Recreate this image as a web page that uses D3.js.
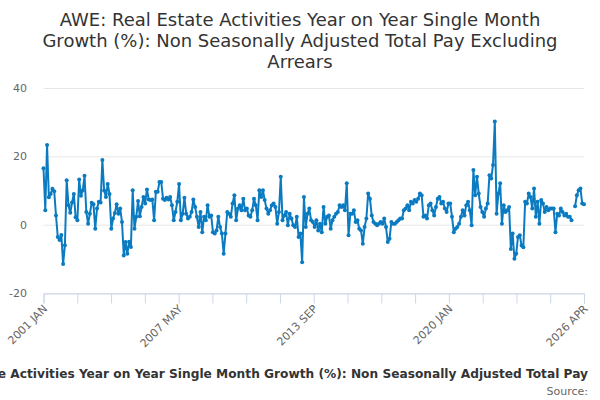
<!DOCTYPE html>
<html>
<head>
<meta charset="utf-8">
<script src="https://cdn.jsdelivr.net/npm/d3@7"></script>
<style>
  body { margin: 0; background: #fff; }
  svg { display: block; font-family: "DejaVu Sans", sans-serif; }
</style>
</head>
<body>
<div id="chart"></div>
<script>
"use strict"

const width = 600;
const height = 400;
const margin = { top: 88, right: 16, bottom: 107, left: 43.5 };

const titleLines = [
    "AWE: Real Estate Activities Year on Year Single Month",
    "Growth (%): Non Seasonally Adjusted Total Pay Excluding",
    "Arrears"
];
const seriesName = "AWE: Real Estate Activities Year on Year Single Month Growth (%): Non Seasonally Adjusted Total Pay";
const sourceText = "Source:";

const startYear = 2001;
const startMonth = 0;

// monthly values, 2001 JAN .. 2026 APR (null = missing month)
const values2001 = [
    16.5, 4.2, 23.3, 8, 9, 10.5, 9.8, 2.7, -3.6, -4.5,
    -3, -11.5, -6, 13, 5.7, 3.5, 6.5, 9, 2.2, 1.3,
    13.2, 8.5, 10, 14.3, 3.7, 0.3, 3.2, 6.4, 6, -1.2,
    4.7, 6.7, 6.5, 18.9, 10, 8.1, 11.9, 9, -1.2, 1.8,
    3.4, 6, 3.2, 4.7, 0.8, -9, -5.1, -8.5, -5, -6.5,
    10.1, -1.2, 2.3, 6.9, 2.5, 5.2, 8.1, 6.2, 10.3, 7.4,
    7.2, 7.4, 1.3, 9.6, 9.6, 12.5, 12.5, 7.6, 7.2, 7.9,
    7.4, 8.1, 5.7, 1.3, 3.7, 6.7, 11.9, 1.3, 3.2, 7.9,
    3.2, 1.8, 2.3, 3.7, 7.4, 5.2, 2.3, -0.7, 3.7
];
const values2008 = [
    -2.2, 2.3, 1.3, 5.7, 2.3, 2.7, -2.2, -2.6, -1.7, 2.3,
    -0.7, -2.6, -8.5, -2.6, 3.7, 3.2, 2.3, 6.2, 8.6, 1.3,
    4.7, 5.7, 4.2, 7.6, 4.2, 4.7, 2.7, 2.3, 4.2, 7.6,
    5.7, 1.3, 10.1, 8.1, 10.1, 7.2, 4.7, 3.2, 4.2, 5.7,
    6.2, 5.2, 0.3, 3.7, 14, 1.3, 2.7, 3.7, -0.2, 3.2,
    1.8, -0.2, -0.7, 2.3, -3.6, -2.6, -11, 8.1, -0.7, 3.2,
    4.7, 1.3, 0.8, -0.7, 1.3, -1.7, 0.3, -2.2, 5.2, 0.3,
    2.3, 2.7
];
const values2014 = [
    -1.2, 1.3, 2.3, 3.2, 3.7, 5.7, 5.2, 5.7, 4.2, 12.1,
    -3.1, 3.2, 3.2, 4.2, 0.8, 1.3, -1.2, -1.7, -5.6, -0.7,
    1.8, 9.1, 7.6, 2.7, 0.8, 0.3, -0.2, 0.3, 0.8, 0.3,
    1.8, -0.7, -5.1, -4.1, 0.8, 0.3, 0.3, 0.8, 1.3, 1.8,
    1.8, 4.2, 4.7, 5.7, 4.2, 6.7, 6.2, 7.2, 6.7, 7.6,
    9.1, 8.6, 2.3, 2.7, 1.8, 5.7, 6.2, 4.2, 2.7, 5.2,
    7.6, 8.1, 6.2, 6.7, 4.7, 3.7, 6.2, 6.2, 2.3, -2.2,
    -1.2, -0.7, 0.3
];
const values2020 = [
    2.3, 4.2, 2.7, 5.7, 6.7, 4.2, -0.2, 16, 8.6, 14,
    9.1, 5.2, 3.7, 2.3, 4.7, 6.2, 14.5, 13.5, 17.5, 30.2,
    3.2, 9.1, 12.1, 0.3, 5.7, 3.7, 4.2, 5.2, -7.1, -2.6,
    -10, -8.5, -3.6, -3.1, -6.1, -6.6, 6.7, 6.2, 9.1, 8.1,
    4.7, 10.6, 2.3, 6.7, 0.3, 7.2, 6.2, 3.7, 5.2, 4.2,
    4.7, 4.7, 4.7, -2.2, 3.2, 2.7, 4.7, 3.7, 2.7, 3.2,
    2.3, 2.3, 1.3, null, 5.4, 8.6, 10.1, 10.6, 6.2, 6.0
];

const yTicks = [-20, 0, 20, 40];
const xTickCount = 17;
const xLabelEvery = 4;
const xTickLabels = ["2001 JAN", "2007 MAY", "2013 SEP", "2020 JAN", "2026 APR"];

const values = values2001.concat(values2008, values2014, values2020);
const monthNames = ["JAN","FEB","MAR","APR","MAY","JUN","JUL","AUG","SEP","OCT","NOV","DEC"];
const data = values.map((v, i) => ({
    i: i,
    label: `${startYear + Math.floor((startMonth + i) / 12)} ${monthNames[(startMonth + i) % 12]}`,
    value: v
}));

const lineColor = "#0b7bc1";
const gridColor = "#e6e6e6";
const axisColor = "#ccd6eb";
const labelColor = "#666666";

const svg = d3.select("#chart").append("svg")
    .attr("width", width)
    .attr("height", height);

const x = d3.scaleLinear()
    .domain([0, data.length - 1])
    .range([margin.left, width - margin.right]);

const y = d3.scaleLinear()
    .domain([-20, 40])
    .range([height - margin.bottom, margin.top]);

// title
svg.append("text")
    .attr("x", width / 2)
    .attr("y", 26)
    .attr("text-anchor", "middle")
    .attr("fill", "#333333")
    .attr("font-size", "18px")
    .selectAll("tspan")
    .data(titleLines)
    .enter()
    .append("tspan")
        .attr("x", width / 2)
        .attr("dy", (_, i) => i == 0 ? 0 : 21)
        .text(d => d);

// grid + y labels
svg.append("g")
    .selectAll("line")
    .data(yTicks)
    .enter()
    .append("line")
        .attr("x1", margin.left)
        .attr("x2", width - margin.right)
        .attr("y1", d => y(d) + 0.5)
        .attr("y2", d => y(d) + 0.5)
        .attr("stroke", gridColor);

svg.append("g")
    .selectAll("text")
    .data(yTicks)
    .enter()
    .append("text")
        .attr("x", 27)
        .attr("y", d => y(d) + 4)
        .attr("text-anchor", "end")
        .attr("fill", labelColor)
        .attr("font-size", "11px")
        .text(d => d);

// x axis
const xTicks = d3.range(xTickCount).map(k => k * (data.length - 1) / (xTickCount - 1));
const xAxis = d3.axisBottom(x)
    .tickValues(xTicks)
    .tickSize(10)
    .tickFormat((_, k) => (k % xLabelEvery == 0) ? xTickLabels[k / xLabelEvery] : "");

const xAxisG = svg.append("g")
    .attr("transform", `translate(0,${y(-20) + 0.5})`)
    .call(xAxis);

xAxisG.select(".domain").attr("stroke", axisColor);
xAxisG.selectAll(".tick line").attr("stroke", axisColor);
xAxisG.selectAll(".tick text")
    .attr("fill", labelColor)
    .attr("font-size", "11px")
    .attr("font-family", "DejaVu Sans, sans-serif")
    .attr("text-anchor", "end")
    .attr("dy", null)
    .attr("y", 0)
    .attr("transform", "translate(4,16) rotate(-45)");

// series
const line = d3.line()
    .defined(d => d.value != null)
    .x(d => x(d.i))
    .y(d => y(d.value));

svg.append("path")
    .datum(data)
    .attr("d", line)
    .attr("fill", "none")
    .attr("stroke", lineColor)
    .attr("stroke-width", 2)
    .attr("stroke-linejoin", "round");

svg.append("g")
    .selectAll("circle")
    .data(data.filter(d => d.value != null))
    .enter()
    .append("circle")
        .attr("cx", d => x(d.i))
        .attr("cy", d => y(d.value))
        .attr("r", 2)
        .attr("fill", lineColor);

// legend (clipped by the page edge, as in the source chart) + source
svg.append("text")
    .attr("x", 588)
    .attr("y", 378)
    .attr("text-anchor", "end")
    .attr("fill", "#333333")
    .attr("font-size", "12.2px")
    .attr("font-weight", "bold")
    .text(seriesName);

svg.append("text")
    .attr("x", 588)
    .attr("y", 395)
    .attr("text-anchor", "end")
    .attr("fill", labelColor)
    .attr("font-size", "11px")
    .text(sourceText);
</script>
</body>
</html>
